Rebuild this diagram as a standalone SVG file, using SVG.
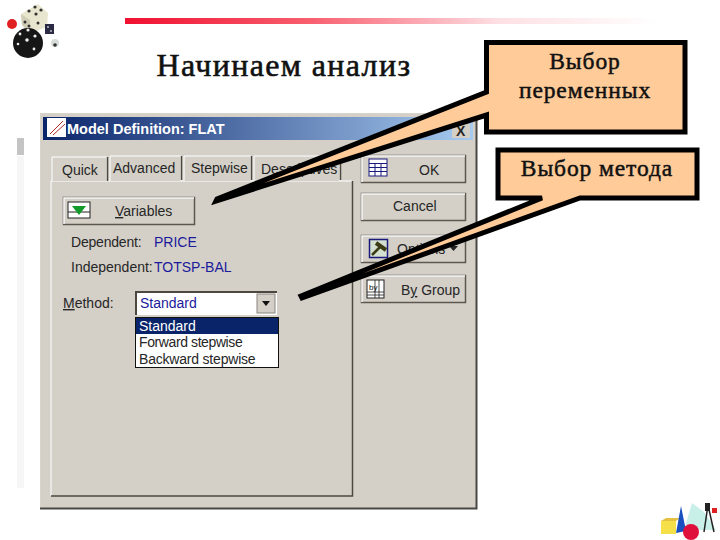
<svg xmlns="http://www.w3.org/2000/svg" width="720" height="540" viewBox="0 0 720 540">
<style>
.ui{font-family:"Liberation Sans",Arial,sans-serif;font-size:14px;fill:#262626}
.blue{fill:#1a1a9c}
.btn{fill:#d4d0c8;stroke:#5c5850;stroke-width:1.500}
.hl{fill:none;stroke:#fff;stroke-width:1.500}
.co{fill:#ffcc99;stroke:#000;stroke-width:5;stroke-linejoin:miter}
.cot{font-family:"Liberation Serif","Times New Roman",serif;font-size:23.500px;fill:#111;stroke:#111;stroke-width:.5;text-anchor:middle;letter-spacing:.9px}
</style>
<defs>
<linearGradient id="rule" x1="0" x2="1" y1="0" y2="0"><stop offset="0" stop-color="#f01030"/><stop offset=".35" stop-color="#f86070"/><stop offset=".7" stop-color="#fde0e4"/><stop offset="1" stop-color="#fff"/></linearGradient>
<linearGradient id="tb" x1="0" x2="1" y1="0" y2="0"><stop offset="0" stop-color="#0a246a"/><stop offset="1" stop-color="#a6caf0"/></linearGradient>
</defs>
<rect width="720" height="540" fill="#fff"/>
<rect x="125" y="18" width="535" height="6" fill="url(#rule)"/>
<rect x="17" y="138" width="7" height="17" fill="#c4c4c4"/>
<rect x="17" y="156" width="7" height="332" fill="#f6f6f6"/>
<g id="dice">
<polygon points="21,14 38,4 48,13 47,27 30,33 22,25" fill="#e8e6cf"/>
<polygon points="21,14 30,20 30,33 22,25" fill="#cfcdb5"/>
<g fill="#333"><circle cx="29" cy="11" r="1.600"/><circle cx="35" cy="7" r="1.600"/><circle cx="41" cy="10" r="1.600"/><circle cx="36" cy="14" r="1.600"/><circle cx="25" cy="22" r="1.500"/><circle cx="29" cy="26" r="1.500"/><circle cx="38" cy="23" r="1.500"/></g>
<circle cx="12" cy="24" r="5" fill="#e02020"/>
<rect x="45" y="24" width="9" height="10" fill="#2a2a44"/>
<g fill="#ccc"><circle cx="48" cy="27" r=".9"/><circle cx="51" cy="31" r=".9"/></g>
<circle cx="28" cy="43" r="15" fill="#161616"/>
<g fill="#eee"><circle cx="28" cy="30" r="1.600"/><circle cx="20" cy="34" r="1.400"/><circle cx="35" cy="36" r="1.600"/><circle cx="27" cy="40" r="1.800"/><circle cx="18" cy="44" r="1.300"/><circle cx="34" cy="49" r="1.400"/></g>
<circle cx="55" cy="43" r="4" fill="#d8dcd8"/><circle cx="55" cy="45" r="1.800" fill="#333"/>
</g>
<text x="284" y="76" text-anchor="middle" font-family="'Liberation Serif','Times New Roman',serif" font-size="32" letter-spacing="1.350" stroke="#111" stroke-width=".6" fill="#111">Начинаем анализ</text>
<g id="dialog">
<rect x="40" y="113" width="437" height="396" fill="#d4d0c8"/>
<path d="M40.500 509V113.500H477" fill="none" stroke="#d8d4cc"/>
<path d="M40 508.500H476.500V113" fill="none" stroke="#4a4644" stroke-width="2"/>
<rect x="43" y="117" width="430" height="23" fill="url(#tb)"/>
<rect x="47" y="118" width="19" height="19" fill="#fff"/>
<path d="M50 134L63 121M53 135L65 124" stroke="#b03030" stroke-width="1" fill="none"/>
<text x="67" y="134" font-family="'Liberation Sans',Arial,sans-serif" font-size="14.500" font-weight="bold" fill="#fff">Model Definition: FLAT</text>
<rect x="452" y="124" width="18" height="14" fill="#d4d0c8"/>
<text x="456" y="136" class="ui" font-weight="bold">X</text>
<rect x="50.500" y="181.500" width="302" height="315" fill="#d4d0c8" stroke="none"/>
<path d="M51 496V181H352" fill="none" stroke="#fff"/>
<path d="M51 496H352.500V181" fill="none" stroke="#4c4840" stroke-width="1.500"/>
</g>
<g id="tabs">
<path d="M52 181V157H107V181" fill="#d4d0c8" stroke="#fff"/><path d="M107.500 157V181" stroke="#4c4840" stroke-width="1.500"/>
<path d="M110 181V156H181V181" fill="#d4d0c8" stroke="#fff"/><path d="M181.500 156V180" stroke="#4c4840" stroke-width="1.500"/>
<path d="M184 181V156H251V181" fill="#d4d0c8" stroke="#fff"/><path d="M251.500 156V180" stroke="#4c4840" stroke-width="1.500"/>
<path d="M254 181V156H340V181" fill="#d4d0c8" stroke="#fff"/><path d="M340.500 156V180" stroke="#4c4840" stroke-width="1.500"/>
<text x="62" y="175" class="ui">Quick</text>
<text x="113" y="173" class="ui">Advanced</text>
<text x="191" y="173" class="ui">Stepwise</text>
<text x="261" y="174" class="ui">Descriptives</text>
</g>
<g id="variables">
<rect x="63.500" y="197.500" width="131" height="27" class="btn"/>
<path d="M64 224V198H194" class="hl"/>
<rect x="68" y="202" width="22" height="16" fill="#fff" stroke="#222"/>
<path d="M68 212H90" stroke="#222"/>
<polygon points="72,206 86,206 79,215" fill="#129a2a"/>
<text x="115" y="216" class="ui"><tspan text-decoration="underline">V</tspan>ariables</text>
</g>
<g id="fields">
<text x="71" y="247" class="ui" letter-spacing="-.2">Dependent:</text>
<text x="154" y="247" class="ui blue">PRICE</text>
<text x="71" y="272" class="ui">Independent:</text>
<text x="154" y="272" class="ui blue">TOTSP-BAL</text>
<text x="63" y="308" class="ui"><tspan text-decoration="underline">M</tspan>ethod:</text>
</g>
<g id="method">
<rect x="136" y="292" width="141" height="23" fill="#fff"/>
<path d="M136 315V292H277" fill="none" stroke="#4c4840" stroke-width="2"/>
<rect x="257" y="294" width="18" height="19" fill="#d4d0c8" stroke="#8a867e"/>
<polygon points="262,301 270,301 266,306" fill="#111"/>
<text x="140" y="308" class="ui blue">Standard</text>
<rect x="135.500" y="317.500" width="143" height="50" fill="#fff" stroke="#111"/>
<rect x="136" y="318" width="142" height="16" fill="#0a246a"/>
<text x="139" y="331" class="ui" style="fill:#fff">Standard</text>
<text x="139" y="347" class="ui" letter-spacing="-.4">Forward stepwise</text>
<text x="139" y="364" class="ui" letter-spacing="-.2">Backward stepwise</text>
</g>
<g id="buttons">
<rect x="361.500" y="155.500" width="104" height="27" class="btn"/><path d="M362 182V156H465" class="hl"/>
<rect x="369" y="159" width="18" height="17" fill="#fff" stroke="#1a1a7c"/><path d="M369 163.500H387M369 167.500H387M369 171.500H387M375 163V176M381 163V176" stroke="#1a1a7c" stroke-width="1"/>
<text x="419" y="175" class="ui">OK</text>
<rect x="361.500" y="193.500" width="104" height="27" class="btn"/><path d="M362 220V194H465" class="hl"/>
<text x="393" y="211" class="ui">Cancel</text>
<rect x="361.500" y="235.500" width="104" height="27" class="btn"/><path d="M362 262V236H465" class="hl"/>
<rect x="369.500" y="239.500" width="18" height="18" fill="#d4e0d0" stroke="#1a1a7c" stroke-width="1.500"/><path d="M372 255L380 247" stroke="#3c3c14" stroke-width="2.500"/><path d="M376 243L386 250" stroke="#3c3c14" stroke-width="4"/>
<text x="397" y="254" class="ui">Options</text>
<polygon points="449,246 458,246 453.500,251" fill="#222"/>
<rect x="361.500" y="275.500" width="104" height="27" class="btn"/><path d="M362 302V276H465" class="hl"/>
<rect x="367" y="280" width="17" height="18" fill="#fff" stroke="#222"/>
<path d="M367 292H384M367 295H384M375 280V298M379 280V298" stroke="#222" stroke-width=".8"/>
<text x="369" y="290" font-family="'Liberation Sans',Arial,sans-serif" font-size="8" fill="#111">by</text>
<text x="401" y="295" class="ui">B<tspan text-decoration="underline">y</tspan> Group</text>
</g>
<g id="callout-variables">
<polygon class="co" points="486.500,42.500 685,42.500 685,132 486.500,132 486.500,115 216,201 217,199 486.500,92"/>
<text x="585" y="69" class="cot">Выбор</text>
<text x="585" y="98" class="cot">переменных</text>
</g>
<g id="callout-method">
<polygon class="co" points="498,150 697,150 697,198 580,198 302,298 301,296 542,198 498,198"/>
<text x="597" y="176" class="cot">Выбор метода</text>
</g>
<g id="geometry">
<polygon points="692,503 704,512 716,530 684,530" fill="#c8efe8"/>
<rect x="661" y="521" width="15" height="13" fill="#f5e04a"/><polygon points="661,521 666,518 680,518 676,521" fill="#e6c040"/>
<polygon points="681,506 686,531 676,533" fill="#1a4fc0"/>
<circle cx="691" cy="532" r="8" fill="#e0103c"/>
<path d="M708 505L704 532M708 505L714 532" stroke="#222" stroke-width="1.500" fill="none"/>
<rect x="705" y="503" width="5" height="8" fill="#222"/>
<rect x="712" y="508" width="5" height="5" fill="#e02020"/>
</g>
</svg>
